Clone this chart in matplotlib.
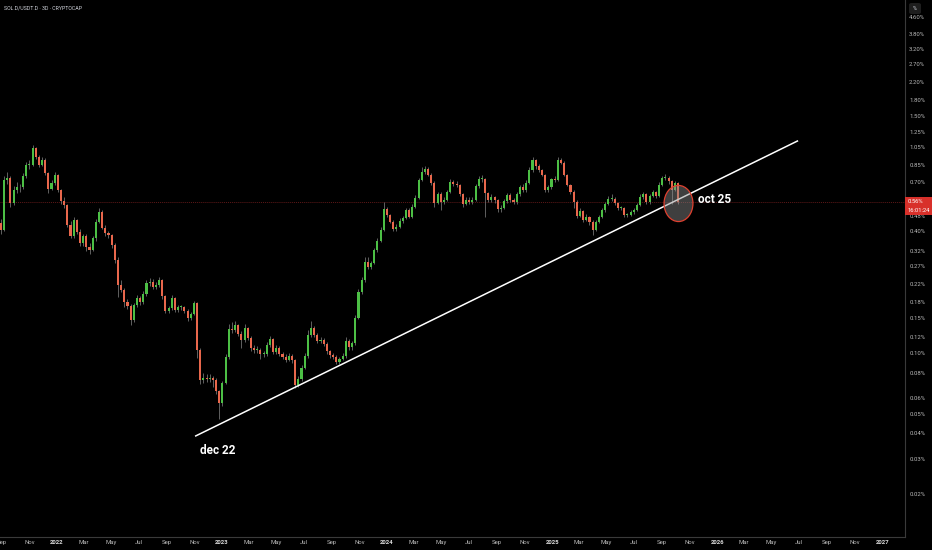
import matplotlib
matplotlib.use("Agg")
import matplotlib.pyplot as plt
import matplotlib.dates as mdates
from matplotlib.path import Path
from matplotlib.transforms import Affine2D
from matplotlib.patches import Rectangle, FancyBboxPatch
import numpy as np
import pandas as pd

# weekly candles (SOL.D / USDT.D, in %)
first_open = 0.44
closes = [0.407, 0.719, 0.733, 0.553, 0.642, 0.661, 0.661, 0.754, 0.854, 0.854,
          1.035, 0.936, 0.854, 0.904, 0.780, 0.650, 0.695, 0.762, 0.642, 0.567,
          0.541, 0.431, 0.380, 0.456, 0.398, 0.350, 0.380, 0.335, 0.324, 0.371,
          0.446, 0.499, 0.416, 0.393, 0.384, 0.343, 0.289, 0.217, 0.205, 0.179,
          0.171, 0.146, 0.173, 0.187, 0.179, 0.196, 0.222, 0.225, 0.213, 0.217,
          0.230, 0.192, 0.162, 0.167, 0.187, 0.1635, 0.169, 0.169, 0.162, 0.149,
          0.156, 0.177, 0.1036, 0.0736, 0.0757, 0.0748, 0.0757, 0.0736, 0.0650, 0.0566,
          0.0712, 0.0957, 0.132, 0.130, 0.1378, 0.125, 0.116, 0.133, 0.119, 0.106,
          0.1036, 0.1036, 0.099, 0.099, 0.1097, 0.117, 0.101, 0.106, 0.099, 0.096,
          0.0925, 0.097, 0.0925, 0.0695, 0.0748, 0.0844, 0.097, 0.123, 0.133, 0.123,
          0.115, 0.116, 0.111, 0.102, 0.098, 0.096, 0.0905, 0.094, 0.097, 0.115,
          0.107, 0.112, 0.149, 0.201, 0.230, 0.283, 0.267, 0.279, 0.324, 0.360,
          0.407, 0.517, 0.483, 0.446, 0.411, 0.420, 0.451, 0.466, 0.511, 0.473,
          0.530, 0.588, 0.719, 0.788, 0.815, 0.762, 0.695, 0.553, 0.613, 0.560,
          0.573, 0.627, 0.703, 0.688, 0.680, 0.613, 0.547, 0.573, 0.560, 0.573,
          0.673, 0.727, 0.727, 0.620, 0.573, 0.592, 0.573, 0.517, 0.522, 0.567,
          0.606, 0.573, 0.560, 0.613, 0.665, 0.642, 0.695, 0.806, 0.904, 0.845,
          0.806, 0.762, 0.642, 0.661, 0.727, 0.719, 0.904, 0.878, 0.762, 0.680,
          0.627, 0.560, 0.477, 0.505, 0.456, 0.473, 0.446, 0.407, 0.446, 0.473,
          0.511, 0.547, 0.579, 0.579, 0.553, 0.522, 0.522, 0.483, 0.483, 0.499,
          0.511, 0.541, 0.592, 0.613, 0.560, 0.599, 0.627, 0.599, 0.680, 0.733,
          0.740, 0.711, 0.642, 0.695, 0.560]
highs = [0.46, 0.75, 0.79, 0.75, 0.67, 0.70, 0.69, 0.78, 0.88, 0.90,
         1.07, 1.05, 0.96, 0.93, 0.92, 0.79, 0.72, 0.79, 0.77, 0.65,
         0.59, 0.55, 0.45, 0.47, 0.46, 0.41, 0.39, 0.39, 0.35, 0.38,
         0.46, 0.52, 0.51, 0.43, 0.40, 0.39, 0.35, 0.30, 0.23, 0.21,
         0.185, 0.175, 0.178, 0.195, 0.192, 0.203, 0.230, 0.235, 0.232, 0.226,
         0.238, 0.233, 0.195, 0.172, 0.193, 0.190, 0.174, 0.174, 0.172, 0.165,
         0.160, 0.182, 0.180, 0.106, 0.080, 0.079, 0.079, 0.077, 0.075, 0.066,
         0.073, 0.099, 0.140, 0.143, 0.144, 0.140, 0.128, 0.140, 0.135, 0.121,
         0.110, 0.108, 0.106, 0.103, 0.113, 0.121, 0.119, 0.110, 0.108, 0.101,
         0.099, 0.100, 0.099, 0.094, 0.077, 0.087, 0.100, 0.130, 0.145, 0.136,
         0.126, 0.120, 0.119, 0.113, 0.104, 0.100, 0.098, 0.096, 0.100, 0.120,
         0.118, 0.115, 0.154, 0.208, 0.238, 0.300, 0.300, 0.287, 0.333, 0.370,
         0.420, 0.56, 0.53, 0.49, 0.455, 0.435, 0.465, 0.48, 0.525, 0.52,
         0.545, 0.605, 0.74, 0.83, 0.84, 0.83, 0.78, 0.71, 0.63, 0.625,
         0.59, 0.645, 0.73, 0.72, 0.71, 0.69, 0.62, 0.59, 0.59, 0.59,
         0.69, 0.75, 0.76, 0.735, 0.63, 0.61, 0.60, 0.58, 0.54, 0.58,
         0.62, 0.62, 0.585, 0.63, 0.68, 0.69, 0.72, 0.83, 0.93, 0.91,
         0.86, 0.82, 0.77, 0.68, 0.74, 0.75, 0.93, 0.92, 0.89, 0.77,
         0.69, 0.64, 0.57, 0.52, 0.51, 0.49, 0.48, 0.455, 0.455, 0.485,
         0.525, 0.56, 0.60, 0.61, 0.59, 0.56, 0.535, 0.53, 0.495, 0.51,
         0.525, 0.555, 0.61, 0.63, 0.62, 0.615, 0.645, 0.635, 0.70, 0.75,
         0.77, 0.75, 0.72, 0.71, 0.70]
lows = [0.39, 0.40, 0.69, 0.53, 0.54, 0.62, 0.63, 0.65, 0.74, 0.82,
        0.84, 0.91, 0.83, 0.84, 0.76, 0.62, 0.64, 0.68, 0.63, 0.55,
        0.52, 0.42, 0.37, 0.37, 0.39, 0.34, 0.34, 0.32, 0.31, 0.32,
        0.36, 0.44, 0.41, 0.38, 0.37, 0.33, 0.28, 0.19, 0.20, 0.17,
        0.165, 0.138, 0.143, 0.170, 0.174, 0.175, 0.192, 0.215, 0.208, 0.208,
        0.212, 0.186, 0.158, 0.158, 0.164, 0.160, 0.160, 0.164, 0.158, 0.145,
        0.146, 0.154, 0.095, 0.070, 0.071, 0.072, 0.072, 0.068, 0.063, 0.047,
        0.055, 0.070, 0.094, 0.126, 0.127, 0.122, 0.106, 0.114, 0.116, 0.103,
        0.100, 0.100, 0.094, 0.096, 0.097, 0.107, 0.099, 0.099, 0.097, 0.094,
        0.090, 0.091, 0.089, 0.067, 0.068, 0.073, 0.083, 0.095, 0.120, 0.120,
        0.112, 0.112, 0.108, 0.099, 0.095, 0.093, 0.088, 0.088, 0.092, 0.095,
        0.104, 0.104, 0.110, 0.147, 0.196, 0.226, 0.260, 0.262, 0.275, 0.318,
        0.355, 0.40, 0.47, 0.44, 0.40, 0.40, 0.415, 0.44, 0.46, 0.465,
        0.468, 0.52, 0.58, 0.71, 0.77, 0.75, 0.68, 0.53, 0.545, 0.51,
        0.55, 0.565, 0.62, 0.67, 0.665, 0.60, 0.53, 0.54, 0.55, 0.55,
        0.565, 0.66, 0.70, 0.47, 0.56, 0.56, 0.555, 0.50, 0.50, 0.515,
        0.555, 0.56, 0.545, 0.55, 0.60, 0.63, 0.63, 0.69, 0.79, 0.82,
        0.79, 0.75, 0.63, 0.63, 0.65, 0.70, 0.71, 0.86, 0.75, 0.67,
        0.61, 0.52, 0.465, 0.47, 0.445, 0.45, 0.43, 0.385, 0.40, 0.44,
        0.465, 0.50, 0.54, 0.565, 0.54, 0.51, 0.51, 0.47, 0.47, 0.475,
        0.49, 0.505, 0.535, 0.58, 0.55, 0.55, 0.59, 0.585, 0.59, 0.67,
        0.72, 0.69, 0.55, 0.635, 0.545]
dates = pd.date_range("2021-08-30", periods=len(closes), freq="7D")

last_price = 0.56
trend_dates = ["2022-11-04", "2026-06-27"]
trend_vals = [0.0389, 1.122]

ytick_vals = [4.60, 3.80, 3.20, 2.70, 2.20, 1.80, 1.50, 1.25, 1.05, 0.85, 0.70, 0.58,
              0.48, 0.40, 0.32, 0.27, 0.22, 0.18, 0.15, 0.12, 0.10, 0.08, 0.06, 0.05,
              0.04, 0.03, 0.02]

up_col = "#4cbf45"
down_col = "#e8674c"
axis_col = "#3a3a3a"
text_col = "#b8b8b8"

fig = plt.figure(figsize=(9.32, 5.5), dpi=100, facecolor="black")
ax = fig.add_axes([0, 13 / 550, 905 / 932, 537 / 550])
ax.set_facecolor("black")
ax.set_yscale("log")
ax.set_xlim(pd.Timestamp("2021-08-28"), pd.Timestamp("2027-02-20"))
ax.set_ylim(0.01229, 5.60)

opens = [first_open] + closes[:-1]
o = np.array(opens)
c = np.array(closes)
body_lo = np.minimum(o, c)
body_hi = np.maximum(np.maximum(o, c), body_lo * 1.01)
cols = [up_col if cc >= oo else down_col for oo, cc in zip(opens, closes)]

ax.vlines(dates, lows, highs, color="#707070", lw=0.6, zorder=2)
ax.bar(dates, body_hi - body_lo, bottom=body_lo, width=4.6, color=cols,
       linewidth=0, zorder=3)

# last price line
ax.axhline(last_price, color="#5e1818", lw=0.7, ls=(0, (1, 1)), zorder=1)

# trend line
ax.plot(pd.to_datetime(trend_dates), trend_vals, color="white", lw=1.1, zorder=4)

# circled last candle
ell = Path.unit_circle().transformed(Affine2D().scale(0.8, 1.0))
ax.plot([dates[-1]], [0.553], marker=ell, markersize=26, mfc=(0.55, 0.55, 0.55, 0.45),
        mec="#e0402f", mew=0.9, ls="none", zorder=5)

ax.text(pd.Timestamp("2025-11-19"), 0.573, "oct 25", color="white", fontsize=8.5,
        fontweight="bold", family="Roboto", va="center", ha="left", zorder=6)
ax.text(pd.Timestamp("2022-11-13"), 0.0328, "dec 22", color="white", fontsize=8.5,
        fontweight="bold", family="Roboto", va="center", ha="left", zorder=6)

# axes styling
for s in ["top", "left"]:
    ax.spines[s].set_visible(False)
ax.spines["right"].set_color(axis_col)
ax.spines["bottom"].set_color(axis_col)
ax.spines["right"].set_linewidth(0.8)
ax.spines["bottom"].set_linewidth(0.8)

ax.yaxis.tick_right()
ax.yaxis.set_minor_locator(matplotlib.ticker.NullLocator())
ax.set_yticks(ytick_vals)
ax.set_yticklabels(["%.2f%%" % v for v in ytick_vals])
ax.tick_params(axis="y", length=0, pad=3, labelsize=4.3, labelcolor=text_col)
for lab in ax.get_yticklabels():
    lab.set_family("Roboto")

xt = pd.date_range("2021-09-01", "2027-01-01", freq="2MS")
ax.set_xticks(xt)
ax.set_xticklabels([str(d.year) if d.month == 1 else d.strftime("%b") for d in xt])
ax.xaxis.set_minor_locator(matplotlib.ticker.NullLocator())
ax.tick_params(axis="x", length=0, pad=2.5, labelsize=4.3, labelcolor=text_col)
for lab in ax.get_xticklabels():
    lab.set_family("Roboto")
    if lab.get_text().isdigit():
        lab.set_fontweight("bold")
        lab.set_color("#d8d8d8")

# title
fig.text(4 / 932, 1 - 8 / 550, "SOL.D/USDT.D · 3D · CRYPTOCAP", color="#d1d4dc",
         fontsize=3.8, family="Roboto", va="center", ha="left")

# % button
fig.patches.append(FancyBboxPatch((909 / 932, 1 - 14 / 550), 12 / 932, 11 / 550,
                                  boxstyle="round,pad=0,rounding_size=0.003",
                                  transform=fig.transFigure, facecolor="#1e1e1e",
                                  edgecolor="none", zorder=5))
fig.text(915 / 932, 1 - 8.5 / 550, "%", color="#d1d4dc", fontsize=4, family="Roboto",
         ha="center", va="center", zorder=6)

# price label box
fig.patches.append(Rectangle((905 / 932, 1 - 215 / 550), 27 / 932, 18 / 550,
                             transform=fig.transFigure, facecolor="#d8302a",
                             edgecolor="none", zorder=5))
fig.text(908 / 932, 1 - 202 / 550, "0.56%", color="white", fontsize=4.2,
         family="Roboto", ha="left", va="center", zorder=6)
fig.text(908 / 932, 1 - 210.5 / 550, "16:01:24", color="white", fontsize=4.2,
         family="Roboto", ha="left", va="center", zorder=6)

fig.savefig("out.png", dpi=100, facecolor="black")
